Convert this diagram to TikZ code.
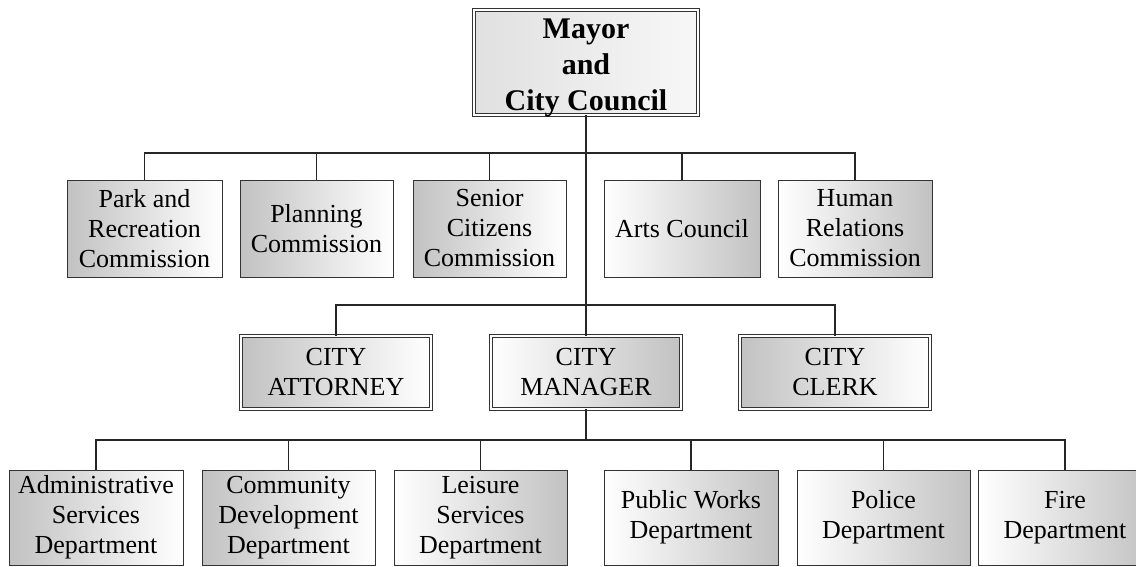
\documentclass[tikz,border=0pt]{standalone}
\usepackage{fontspec}
\setmainfont{Liberation Serif}
\begin{document}
\begin{tikzpicture}[x=1pt,y=-1pt,
  box/.style={draw=black!80, line width=1pt, rectangle, inner sep=0pt,
    align=center, font=\fontsize{26}{30}\selectfont, text=black},
  grayleft/.style={left color=black!24, right color=white},
  grayright/.style={left color=white, right color=black!24},
  dbl/.style={double=white, double distance=1.6pt, line width=0.9pt},
  rowA/.style={box, minimum height=97pt},
  rowB/.style={box, dbl, minimum height=73pt, minimum width=190pt},
  rowC/.style={box, minimum height=95pt},
  link/.style={draw=black!85, line width=1.1pt}]
\useasboundingbox (0,0) rectangle (1136,566);
\clip (0,0) rectangle (1136,566);

% governing body: frame, then its title set a little low in it
\node[box, dbl, minimum width=224pt, minimum height=105pt,
  left color=black!12, middle color=black!24, right color=black!3] (mayor) at (586,62.5) {};
\node[align=center, inner sep=0pt, font=\fontsize{30}{36}\selectfont\bfseries] (mayortitle)
  at (586,68) {Mayor\\and\\City Council};

% commissions
\node[rowA, grayleft, minimum width=155pt] (park) at (144.5,228.5) {Park and\\Recreation\\Commission};
\node[rowA, grayleft, minimum width=153pt] (plan) at (316.5,228.5) {Planning\\Commission};
\node[rowA, grayleft, minimum width=153pt] (senior) at (489.5,228.5) {Senior\\Citizens\\Commission};
\node[rowA, grayright, minimum width=156pt] (arts) at (682,228.5) {Arts Council};
\node[rowA, grayright, minimum width=154pt] (human) at (855,228.5) {Human\\Relations\\Commission};

% appointed officers
\node[rowB, grayleft] (attorney) at (336,372.5) {CITY\\ATTORNEY};
\node[rowB, grayright] (manager) at (586,372.5) {CITY\\MANAGER};
\node[rowB, grayleft] (clerk) at (835,372.5) {CITY\\CLERK};

% departments
\node[rowC, grayleft, minimum width=174pt] (admin) at (96,517.5) {Administrative\\Services\\Department};
\node[rowC, grayleft, minimum width=173pt] (community) at (288.5,517.5) {Community\\Development\\Department};
\node[rowC, grayright, minimum width=173pt] (leisure) at (480.5,517.5) {Leisure\\Services\\Department};
\node[rowC, grayright, minimum width=174pt] (public) at (691,517.5) {Public Works\\Department};
\node[rowC, grayright, minimum width=173pt] (police) at (883.5,517.5) {Police\\Department};
\node[rowC, grayright, minimum width=174pt] (fire) at (1065,517.5) {Fire\\Department};

% bus lines
\coordinate (busA) at (586,153);
\coordinate (busB) at (586,305);
\coordinate (busC) at (586,440);

\draw[link] (mayor.south) -- (manager.north);
\draw[link] (park.north) -- (park.north |- busA) -| (human.north);
\foreach \n in {plan,senior,arts}
  \draw[link] (\n.north) -- (\n.north |- busA);

\draw[link] (attorney.north) -- (attorney.north |- busB) -| (clerk.north);

\draw[link] (manager.south) -- (busC);
\draw[link] (admin.north) -- (admin.north |- busC) -| (fire.north);
\foreach \n in {community,leisure,public,police}
  \draw[link] (\n.north) -- (\n.north |- busC);
\end{tikzpicture}
\end{document}
